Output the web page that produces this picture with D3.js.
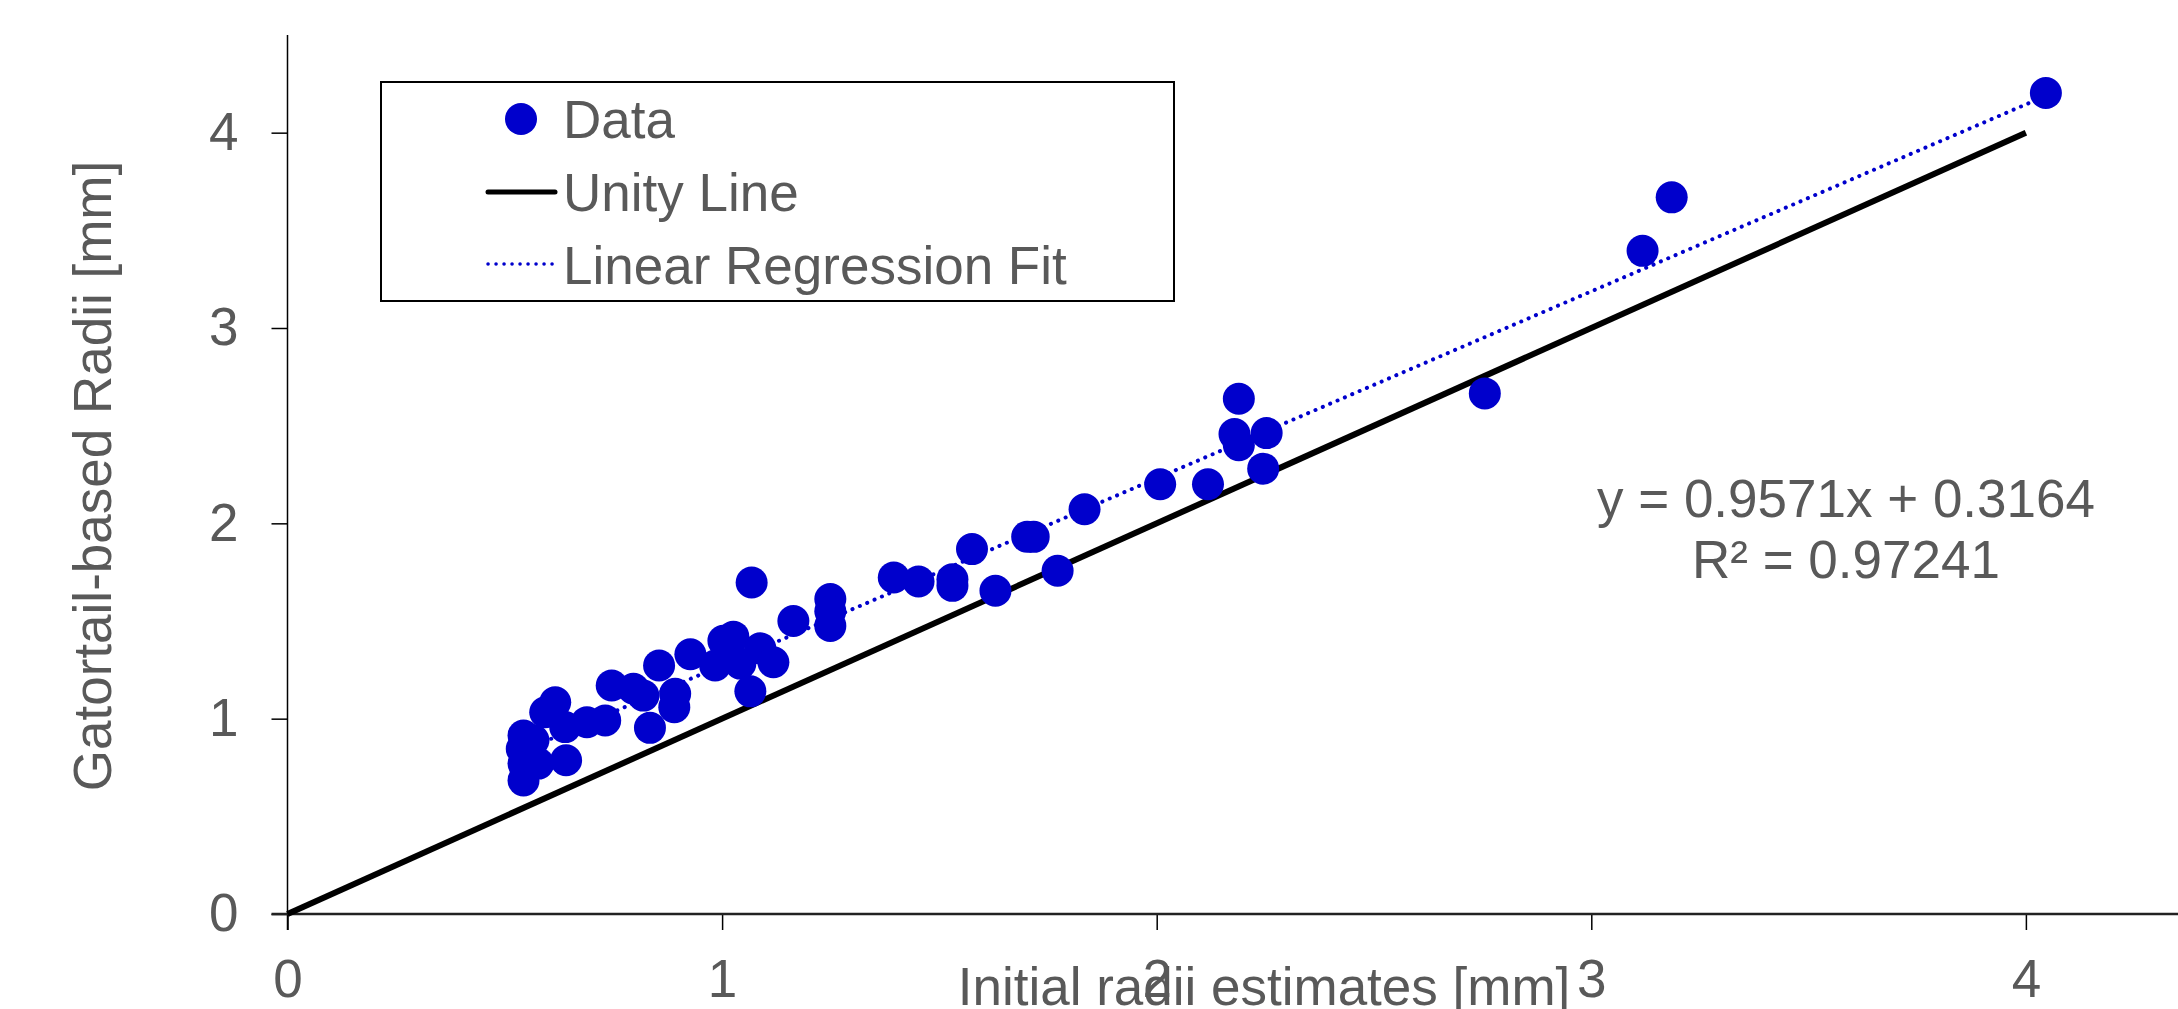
<!DOCTYPE html>
<html>
<head>
<meta charset="utf-8">
<script src="https://cdn.jsdelivr.net/npm/d3@7"></script>
<style>
  body { margin: 0; background: #fff; }
  text { font-family: "Liberation Sans", Arial, sans-serif; fill: #595959; }
</style>
</head>
<body>
<div id="chart"></div>
<script>
// initial radii estimates [mm]
var initialRadii = [
  0.543, 0.543, 0.577, 0.539, 0.543, 0.566, 0.641, 0.639, 0.593, 0.616,
  0.689, 0.731, 0.746, 0.796, 0.819, 0.834, 0.855, 0.892, 0.890, 0.927,
  0.984, 1.003, 1.026, 1.042, 1.088, 1.118, 1.065, 1.068, 1.164, 1.249,
  1.249, 1.249, 1.395, 1.452, 1.530, 1.530, 1.575, 1.629, 1.702, 1.717,
  1.772, 1.834, 2.008, 2.118, 2.189, 2.179, 2.253, 2.189, 2.245, 2.755,
  3.118, 3.185, 4.046
];
// gatortail-based radii [mm]
var gatortailRadii = [
  0.684, 0.770, 0.770, 0.846, 0.914, 0.889, 0.787, 0.957, 1.033, 1.084,
  0.982, 0.991, 1.170, 1.153, 1.118, 0.953, 1.272, 1.127, 1.059, 1.330,
  1.272, 1.399, 1.420, 1.282, 1.360, 1.289, 1.140, 1.697, 1.500, 1.612,
  1.550, 1.475, 1.723, 1.702, 1.714, 1.680, 1.868, 1.655, 1.931, 1.931,
  1.757, 2.072, 2.200, 2.200, 2.638, 2.457, 2.462, 2.400, 2.280, 2.665,
  3.395, 3.669, 4.203
];
var xTicks = [0, 1, 2, 3, 4];
var yTicks = [0, 1, 2, 3, 4];
var unityRange = [0, 4];
var fitSlope = 0.9571,
    fitIntercept = 0.3164;
var fitLabels = ["y = 0.9571x + 0.3164", "R\u00B2 = 0.97241"];
var legendLabels = ["Data", "Unity Line", "Linear Regression Fit"];

var width = 2178,
    height = 1009,
    margin = {top: 35, left: 287.5, bottom: 95, right: 0},
    blue = "#0000CC",
    fontSize = 53;

var svg = d3.select("#chart")
  .append("svg")
  .attr("width", width)
  .attr("height", height);

var x = d3.scaleLinear()
  .domain([0, 4.35])
  .range([margin.left, width - margin.right]);
var y = d3.scaleLinear()
  .domain([0, 4.5])
  .range([height - margin.bottom, margin.top]);

// Axes.
svg.append("g")
  .attr("transform", `translate(0,${y(0)})`)
  .call(d3.axisBottom(x).tickValues(xTicks).tickFormat(d3.format("d"))
    .tickSize(16).tickSizeOuter(0).tickPadding(29));
svg.append("g")
  .attr("transform", `translate(${x(0)},0)`)
  .call(d3.axisLeft(y).tickValues(yTicks).tickFormat(d3.format("d"))
    .tickSize(16).tickSizeOuter(0).tickPadding(33));

svg.selectAll(".domain").remove();
svg.selectAll(".tick line").attr("stroke", "#000").attr("stroke-width", 1.5);
svg.selectAll(".tick text")
  .attr("font-size", fontSize)
  .attr("font-family", "Liberation Sans, Arial, sans-serif")
  .style("fill", "#595959");

svg.append("line")
  .attr("x1", x(0)).attr("x2", x(0))
  .attr("y1", y(0) + 16).attr("y2", y(4.5))
  .attr("stroke", "#000").attr("stroke-width", 1.5);
svg.append("line")
  .attr("x1", x(0) - 16).attr("x2", x(4.35))
  .attr("y1", y(0)).attr("y2", y(0))
  .attr("stroke", "#222").attr("stroke-width", 2.5);

// Axis titles.
svg.append("text")
  .attr("x", 1264)
  .attr("y", 1005)
  .attr("text-anchor", "middle")
  .attr("font-size", fontSize)
  .text("Initial radii estimates [mm]");

svg.append("text")
  .attr("transform", "translate(111,476) rotate(-90)")
  .attr("text-anchor", "middle")
  .attr("font-size", fontSize)
  .text("Gatortail-based Radii [mm]");

// Unity line.
svg.append("line")
  .attr("x1", x(unityRange[0])).attr("y1", y(unityRange[0]))
  .attr("x2", x(unityRange[1])).attr("y2", y(unityRange[1]))
  .attr("stroke", "#000").attr("stroke-width", 6);

// Regression fit over the data range.
var fitX = d3.extent(initialRadii);
svg.append("line")
  .attr("x1", x(fitX[0])).attr("y1", y(fitSlope * fitX[0] + fitIntercept))
  .attr("x2", x(fitX[1])).attr("y2", y(fitSlope * fitX[1] + fitIntercept))
  .attr("stroke", blue).attr("stroke-width", 4)
  .attr("stroke-linecap", "round")
  .attr("stroke-dasharray", "0.1,7.9");

// Data points.
svg.append("g")
  .selectAll("circle")
  .data(initialRadii.map((d, i) => [d, gatortailRadii[i]]))
  .join("circle")
    .attr("cx", d => x(d[0]))
    .attr("cy", d => y(d[1]))
    .attr("r", 16)
    .attr("fill", blue);

// Fit equation.
svg.append("g")
  .selectAll("text")
  .data(fitLabels)
  .join("text")
    .attr("x", 1846)
    .attr("y", (d, i) => 517 + i * 61)
    .attr("text-anchor", "middle")
    .attr("font-size", fontSize)
    .text(d => d);

// Legend.
var legend = svg.append("g");
legend.append("rect")
  .attr("x", 381).attr("y", 82)
  .attr("width", 793).attr("height", 219)
  .attr("fill", "#fff")
  .attr("stroke", "#000").attr("stroke-width", 2);

legend.append("circle")
  .attr("cx", 521).attr("cy", 119).attr("r", 16)
  .attr("fill", blue);
legend.append("line")
  .attr("x1", 488).attr("x2", 555).attr("y1", 192).attr("y2", 192)
  .attr("stroke", "#000").attr("stroke-width", 5)
  .attr("stroke-linecap", "round");
legend.append("line")
  .attr("x1", 488).attr("x2", 556).attr("y1", 264).attr("y2", 264)
  .attr("stroke", blue).attr("stroke-width", 3.5)
  .attr("stroke-linecap", "round")
  .attr("stroke-dasharray", "0.1,7.9");

legend.selectAll(".legend-label")
  .data(legendLabels)
  .join("text")
    .attr("class", "legend-label")
    .attr("x", 563)
    .attr("y", (d, i) => 138 + i * 73)
    .attr("font-size", fontSize)
    .text(d => d);
</script>
</body>
</html>
